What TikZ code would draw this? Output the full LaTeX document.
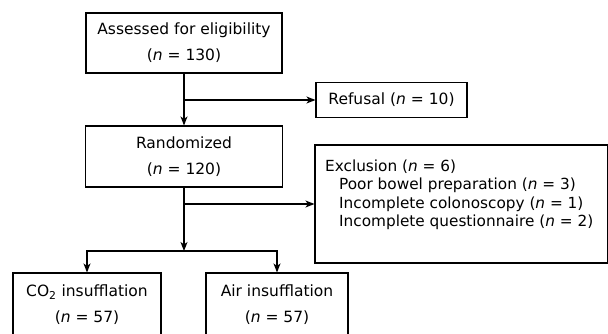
\documentclass[tikz,border=0pt]{standalone}
\usepackage{fontspec}
\setmainfont{DejaVu Sans}
\usetikzlibrary{arrows.meta, positioning}

\begin{document}
\begin{tikzpicture}[
    x=1pt, y=-1pt,
    box/.style={
        draw,
        line width=1.1pt,
        align=center,
        inner sep=0pt,
        font=\fontsize{15.5}{26}\selectfont,
    },
    listtext/.style={
        align=left,
        inner sep=0pt,
        font=\fontsize{15.3}{18.5}\selectfont,
    },
    flow/.style={
        line width=1.1pt,
        -{Stealth[length=9pt, width=7pt, inset=2.5pt]},
    },
    link/.style={
        line width=1.1pt,
    }
]
    \useasboundingbox (0,0) rectangle (608,334);

    % Boxes
    \node[box, minimum width=196pt, minimum height=60pt] (assess) at (184,43) {Assessed for eligibility\\(\textit{n} = 130)};
    \node[box, minimum width=151pt, minimum height=35pt] (refusal) at (391.5,100) {Refusal (\textit{n} = 10)};
    \node[box, minimum width=197pt, minimum height=61pt] (random) at (184,156.5) {Randomized\\(\textit{n} = 120)};
    \node[box, minimum width=293pt, minimum height=118pt] (excl) at (461.5,204) {};
    \node[listtext, anchor=north west] (excllist) at ([xshift=10.5pt, yshift=-15pt]excl.north west)
        {Exclusion (\textit{n} = 6)\\
         \hspace*{14pt}Poor bowel preparation (\textit{n} = 3)\\
         \hspace*{14pt}Incomplete colonoscopy (\textit{n} = 1)\\
         \hspace*{14pt}Incomplete questionnaire (\textit{n} = 2)};
    \node[box, minimum width=148pt, minimum height=63pt] (co2) at (87,304.5) {CO\textsubscript{2} insufflation\\(\textit{n} = 57)};
    \node[box, minimum width=142pt, minimum height=63pt] (air) at (277,304.5) {Air insufflation\\(\textit{n} = 57)};

    % Taps and split
    \coordinate (tap1) at (184,100);
    \coordinate (tap2) at (184,204);
    \coordinate (split) at (184,251);

    % Connectors
    \draw[flow] (assess.south) -- (random.north);
    \draw[flow] (tap1) -- (refusal.west);
    \draw[flow] (random.south) -- (split);
    \draw[flow] (tap2) -- (excl.west);
    \draw[flow] (split) -| (co2.north);
    \draw[flow] (split) -| (air.north);
\end{tikzpicture}
\end{document}
